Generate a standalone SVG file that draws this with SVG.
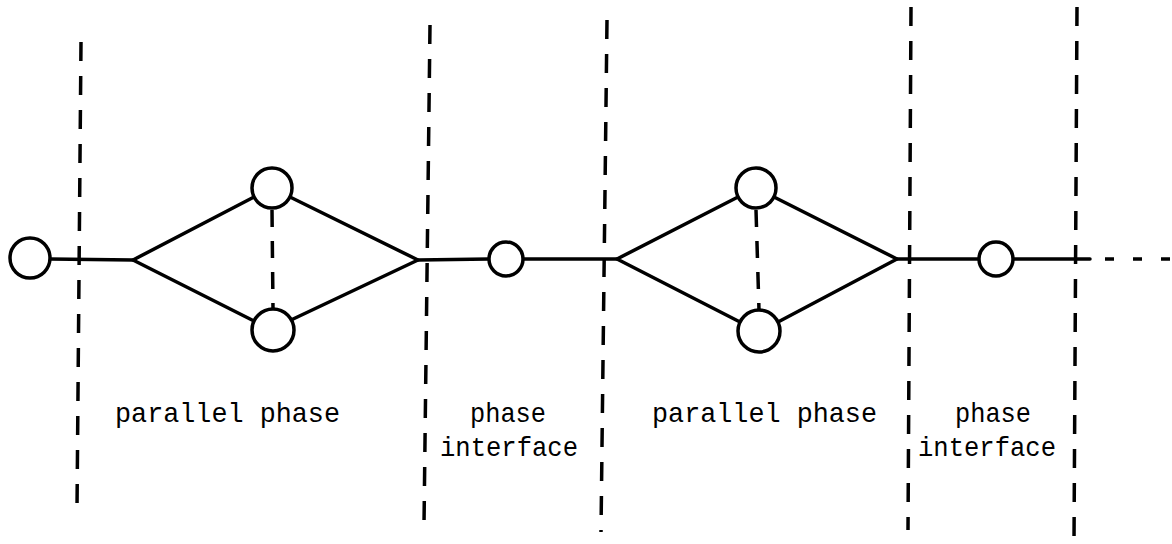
<svg xmlns="http://www.w3.org/2000/svg" width="1172" height="544" viewBox="0 0 1172 544">
<style>
.bg{fill:#fff}
.edge{stroke:#000;stroke-width:3.5;fill:none;stroke-linecap:round;stroke-linejoin:round}
.dash{stroke:#000;stroke-width:3.5;fill:none;stroke-dasharray:17 14}
.sep{stroke:#000;stroke-width:3.5;fill:none;stroke-dasharray:19 15}
.node{fill:#fff;stroke:#000;stroke-width:3.5}
.lbl{font-family:"Liberation Mono","DejaVu Sans Mono",monospace;font-size:28px;fill:#000}
</style>
<rect class="bg" width="1172" height="544"/>
<g id="separators">
<line class="sep" x1="81" y1="42" x2="77" y2="510"/>
<line class="sep" x1="430" y1="25" x2="424" y2="525"/>
<line class="sep" x1="607" y1="20" x2="601" y2="532"/>
<line class="sep" x1="911" y1="7" x2="908" y2="530"/>
<line class="sep" x1="1077" y1="7" x2="1074" y2="542"/>
</g>
<g id="connectors">
<line class="edge" x1="50" y1="259" x2="133" y2="260"/>
<polyline class="edge" points="254,197 133,260 254,321"/>
<polyline class="edge" points="290,197 418,260 291,320"/>
<line class="dash" x1="272" y1="210" x2="273" y2="309"/>
<line class="edge" x1="418" y1="260" x2="489" y2="259"/>
<line class="edge" x1="523" y1="259" x2="617" y2="259"/>
<polyline class="edge" points="738,197 617,259 740,322"/>
<polyline class="edge" points="774,197 897,259 778,322"/>
<line class="dash" x1="756" y1="210" x2="759" y2="310"/>
<line class="edge" x1="897" y1="259" x2="979" y2="259"/>
<line class="edge" x1="1013" y1="259" x2="1090" y2="259"/>
<line class="dash" x1="1105" y1="259" x2="1172" y2="259" style="stroke-dasharray:9 19"/>
</g>
<g id="n0"><circle class="node" cx="30" cy="258" r="20"/></g>
<g id="n1"><circle class="node" cx="272" cy="188" r="20"/></g>
<g id="n2"><circle class="node" cx="273" cy="330" r="21"/></g>
<g id="n3"><circle class="node" cx="506" cy="259" r="17"/></g>
<g id="n4"><circle class="node" cx="756" cy="188" r="20"/></g>
<g id="n5"><circle class="node" cx="759" cy="331" r="21"/></g>
<g id="n6"><circle class="node" cx="996" cy="259" r="17"/></g>
<g id="labels">
<text class="lbl" x="115" y="422" textLength="225" lengthAdjust="spacingAndGlyphs">parallel phase</text>
<text class="lbl" x="470" y="422" textLength="76" lengthAdjust="spacingAndGlyphs">phase</text>
<text class="lbl" x="440" y="456" textLength="138" lengthAdjust="spacingAndGlyphs">interface</text>
<text class="lbl" x="652" y="422" textLength="225" lengthAdjust="spacingAndGlyphs">parallel phase</text>
<text class="lbl" x="955" y="422" textLength="76" lengthAdjust="spacingAndGlyphs">phase</text>
<text class="lbl" x="918" y="456" textLength="138" lengthAdjust="spacingAndGlyphs">interface</text>
</g>
</svg>
